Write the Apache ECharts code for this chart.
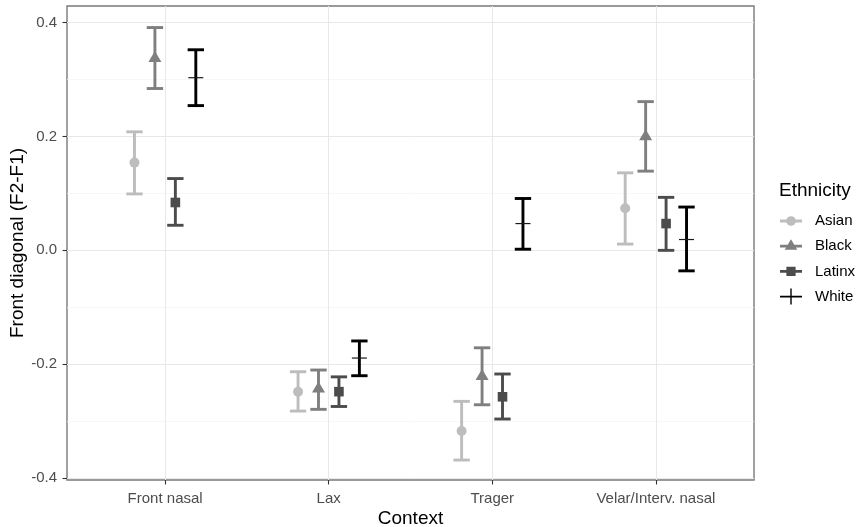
<!DOCTYPE html>
<html><head><meta charset="utf-8">
<script src="https://cdn.jsdelivr.net/npm/echarts@6/dist/echarts.min.js"></script>
<style>html,body{margin:0;padding:0;background:#fff}#c{width:858px;height:527px}</style>
</head><body><div id="c"></div>
<script>
// ---- data ----
const categories = ['Front nasal', 'Lax', 'Trager', 'Velar/Interv. nasal'];
const ethnicities = ['Asian', 'Black', 'Latinx', 'White'];

const meanAsian  = [0.154, -0.248, -0.317, 0.074];
const lowerAsian = [0.099, -0.282, -0.368, 0.011];
const upperAsian = [0.208, -0.213, -0.265, 0.136];

const meanBlack  = [0.337, -0.243, -0.221, 0.200];
const lowerBlack = [0.284, -0.279, -0.271, 0.139];
const upperBlack = [0.391, -0.210, -0.171, 0.261];

const meanLatinx  = [0.084, -0.248, -0.257, 0.047];
const lowerLatinx = [0.044, -0.274, -0.296, 0.000];
const upperLatinx = [0.126, -0.222, -0.217, 0.093];

const meanWhite  = [0.303, -0.189, 0.047, 0.019];
const lowerWhite = [0.254, -0.220, 0.002, -0.036];
const upperWhite = [0.352, -0.159, 0.091, 0.076];

const yTickMin = -0.4, yTickMax = 0.4, yTickStep = 0.2;
const yMin = -0.403, yMax = 0.4288;   // panel limits (with ggplot expansion)

// ---- style / layout ----
const FONT = "'Liberation Sans', Arial, sans-serif";
const colors = ['#bdbdbd', '#7f7f7f', '#4c4c4c', '#000000'];
const dodge = [-0.1875, -0.0625, 0.0625, 0.1875];
const capHalf = 0.05;
const PL = 67, PR = 754, PT = 6, PB = 480, W = 858, H = 527;
const unit = (PR - PL) / 4.2;
const pxPerY = (PB - PT) / (yMax - yMin);

const means = [meanAsian, meanBlack, meanLatinx, meanWhite];
const lowers = [lowerAsian, lowerBlack, lowerLatinx, lowerWhite];
const uppers = [upperAsian, upperBlack, upperLatinx, upperWhite];

function makeRender(idx) {
  return function (params, api) {
    const c = api.value(0);
    const band = api.size([1, 0])[0];
    const x = api.coord([c, 0])[0] + dodge[idx] * band;
    const ym = api.coord([c, api.value(1)])[1];
    const yl = api.coord([c, api.value(2)])[1];
    const yu = api.coord([c, api.value(3)])[1];
    const hw = capHalf * band;
    const col = colors[idx];
    const lw = 2.9;
    const st = { stroke: col, lineWidth: lw, fill: null };
    const children = [
      { type: 'line', shape: { x1: x, y1: yu, x2: x, y2: yl }, style: st },
      { type: 'line', shape: { x1: x - hw, y1: yu, x2: x + hw, y2: yu }, style: st },
      { type: 'line', shape: { x1: x - hw, y1: yl, x2: x + hw, y2: yl }, style: st }
    ];
    if (idx === 0) {
      children.push({ type: 'circle', shape: { cx: x, cy: ym, r: 5 }, style: { fill: col } });
    } else if (idx === 1) {
      children.push({ type: 'polygon', shape: { points: [[x, ym - 7.2], [x + 6.5, ym + 3.8], [x - 6.5, ym + 3.8]] }, style: { fill: col } });
    } else if (idx === 2) {
      children.push({ type: 'rect', shape: { x: x - 4.8, y: ym - 4.8, width: 9.6, height: 9.6 }, style: { fill: col } });
    } else {
      children.push({ type: 'line', shape: { x1: x - 7.5, y1: ym, x2: x + 7.5, y2: ym }, style: { stroke: '#1a1a1a', lineWidth: 1.2 } });
    }
    return { type: 'group', children: children };
  };
}

const series = ethnicities.map(function (name, idx) {
  return {
    type: 'custom',
    name: name,
    xAxisIndex: 2,
    yAxisIndex: 2,
    itemStyle: { color: colors[idx] },
    encode: { x: 0, y: 1 },
    clip: false,
    data: categories.map(function (cat, i) { return [cat, means[idx][i], lowers[idx][i], uppers[idx][i]]; }),
    renderItem: makeRender(idx)
  };
});

const box = 'M0 0 M30 16 ';
const keyLine = 'M0 6.6 L22 6.6 L22 9.4 L0 9.4 Z ';
const icons = [
  'path://' + box + keyLine + 'M6.2 8 A4.8 4.8 0 1 1 15.8 8 A4.8 4.8 0 1 1 6.2 8 Z',
  'path://' + box + keyLine + 'M11 1 L17.3 11.6 L4.7 11.6 Z',
  'path://' + box + keyLine + 'M6.4 3.4 L15.6 3.4 L15.6 12.6 L6.4 12.6 Z',
  'path://' + box + 'M0 7.2 L22 7.2 L22 8.8 L0 8.8 Z M10.3 0 L11.7 0 L11.7 16 L10.3 16 Z'
];

const option = {
  animation: false,
  backgroundColor: '#ffffff',
  textStyle: { fontFamily: FONT },
  title: {
    text: 'Ethnicity', left: 779, top: 180, padding: 0,
    textStyle: { fontSize: 19, fontWeight: 'normal', color: '#000', fontFamily: FONT, lineHeight: 22 }
  },
  legend: {
    orient: 'vertical', left: 780, top: 213, padding: 0,
    itemWidth: 30, itemHeight: 16, itemGap: 9.2, selectedMode: false,
    textStyle: { fontSize: 15, color: '#000', lineHeight: 16, fontFamily: FONT },
    data: ethnicities.map(function (n, i) { return { name: n, icon: icons[i] }; })
  },
  grid: [
    { left: PL, top: PT, width: PR - PL, height: PB - PT, show: true, borderColor: '#7a7a7a', borderWidth: 1.4, backgroundColor: 'transparent', outerBoundsMode: 'none', containLabel: false },
    { left: PL, top: PT + (yMax - yTickMax) * pxPerY, width: PR - PL, height: (yTickMax - yTickMin) * pxPerY, outerBoundsMode: 'none', containLabel: false },
    { left: PL + 0.1 * unit, top: PT, width: 4 * unit, height: PB - PT, outerBoundsMode: 'none', containLabel: false }
  ],
  xAxis: [
    { gridIndex: 0, type: 'value', min: 0, max: 1, axisLine: { show: false, onZero: false }, axisTick: { show: false }, axisLabel: { show: false }, splitLine: { show: false },
      name: 'Context', nameLocation: 'middle', nameGap: 29, nameTextStyle: { fontSize: 19, color: '#000', fontFamily: FONT } },
    { gridIndex: 1, type: 'value', min: 0, max: 1, show: false },
    { gridIndex: 2, type: 'category', data: categories, boundaryGap: true, position: 'bottom',
      axisLine: { show: false, onZero: false },
      axisTick: { show: true, alignWithLabel: true, length: 4.5, lineStyle: { color: '#333', width: 1.1 } },
      axisLabel: { fontSize: 15, color: '#4d4d4d', margin: 11, fontFamily: FONT },
      splitLine: { show: true, alignWithLabel: true, lineStyle: { color: '#e8e8e8', width: 1 } } }
  ],
  yAxis: [
    { gridIndex: 0, type: 'value', min: 0, max: 1, axisLine: { show: false, onZero: false }, axisTick: { show: false }, axisLabel: { show: false }, splitLine: { show: false },
      name: 'Front diagonal (F2-F1)', nameLocation: 'middle', nameGap: 40, nameTextStyle: { fontSize: 19, color: '#000', fontFamily: FONT } },
    { gridIndex: 1, type: 'value', min: yTickMin, max: yTickMax, interval: yTickStep,
      axisLine: { show: false, onZero: false },
      axisTick: { show: true, length: 4.5, lineStyle: { color: '#333', width: 1.1 } },
      axisLabel: { fontSize: 15, color: '#4d4d4d', margin: 10, fontFamily: FONT, formatter: function (v) { return v.toFixed(1); } },
      splitLine: { show: true, lineStyle: { color: '#e8e8e8', width: 1 } },
      minorTick: { show: false, splitNumber: 2 },
      minorSplitLine: { show: true, lineStyle: { color: '#f3f3f3', width: 0.7 } } },
    { gridIndex: 2, type: 'value', min: yMin, max: yMax, show: false }
  ],
  series: series
};

const chart = echarts.init(document.getElementById('c'), null, { renderer: 'canvas' });
chart.setOption(option);
</script>
</body></html>
